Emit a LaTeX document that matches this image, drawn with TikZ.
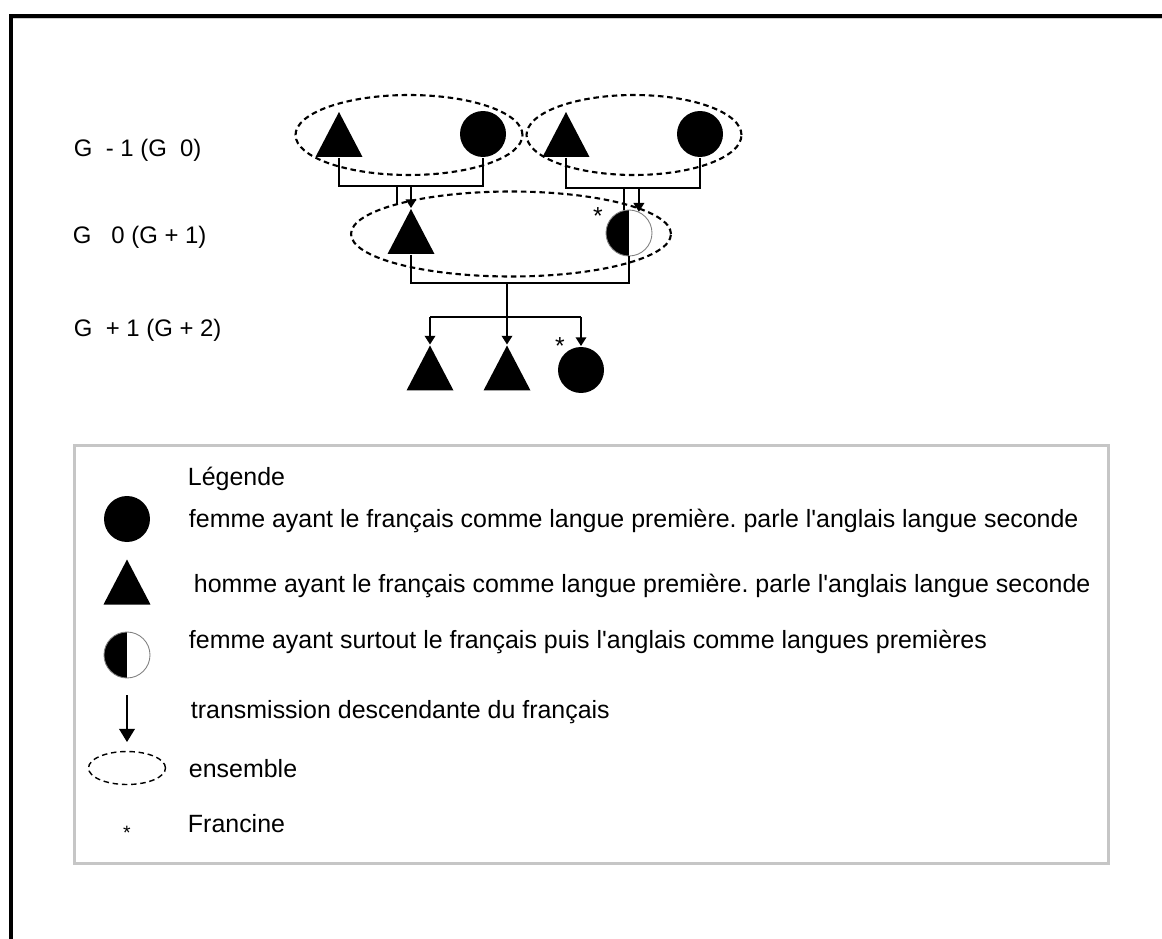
\documentclass[tikz,border=0pt]{standalone}
\usepackage{fontspec}
\setmainfont{Liberation Sans}
\usepackage{tikz}
\usetikzlibrary{arrows.meta, positioning, shapes.geometric}
\frenchspacing

\begin{document}
\begin{tikzpicture}[
    x=0.02cm, y=-0.02cm,
    font=\fontsize{14.2}{17}\selectfont,
    line width=1.1pt,
    man/.style={minimum width=0.94cm, minimum height=0.9cm, inner sep=0pt,
      path picture={\fill (path picture bounding box.south west)
        -- (path picture bounding box.north)
        -- (path picture bounding box.south east) -- cycle;}},
    woman/.style={circle, fill, minimum size=0.92cm, inner sep=0pt},
    halfw/.style={circle, draw=gray, line width=0.5pt, minimum size=0.92cm,
      inner sep=0pt,
      path picture={\fill (path picture bounding box.south west)
        rectangle (path picture bounding box.north);}},
    group/.style={ellipse, draw, line width=1.2pt,
      dash pattern=on 0.11cm off 0.075cm, inner sep=0pt},
    desc/.style={anchor=base west, inner sep=0pt},
    gen/.style={anchor=base west, inner sep=0pt, font=\fontsize{13.6}{16}\selectfont},
    star/.style={font=\fontsize{14}{16}\selectfont, inner sep=0pt},
    trans/.style={-{Triangle[length=5pt, width=6pt]}},
]
  \useasboundingbox (0,0) rectangle (1162,939);

  % ---- Outer frame ----
  \draw[line width=0.08cm] (1190,16) -| (11,970);
  \draw[gray!40, line width=0.02cm] (13,19) -- (1190,19);

  % ---- Generation labels ----
  \node[gen] (lg1) at (73,157) {G\ \ - 1 (G\ \ 0)};
  \node[gen] (lg2) at (72,243) {G\ \ \ 0 (G + 1)};
  \node[gen] (lg3) at (73,336) {G\ \ + 1 (G + 2)};

  % ---- Generation -1 ----
  \node[group, minimum width=4.54cm, minimum height=1.6cm] (ens1) at (409,135) {};
  \node[group, minimum width=4.3cm, minimum height=1.6cm] (ens2) at (634,135) {};
  \node[man]   (pa1) at (339,134.5) {};
  \node[woman] (ma1) at (483,134) {};
  \node[man]   (pa2) at (566,134.5) {};
  \node[woman] (ma2) at (700,134) {};

  % ---- Generation 0 ----
  \node[group, minimum width=6.4cm, minimum height=1.7cm] (ens3) at (511,234) {};
  \node[man]   (son) at (411,231.5) {};
  \node[halfw] (fra) at (629,233) {};
  \node[star]  (st1) at (598,216) {*};

  % ---- Generation +1 ----
  \node[man]   (k1) at (430,368) {};
  \node[man]   (k2) at (507,368) {};
  \node[woman] (k3) at (581,370) {};
  \node[star]  (st2) at (560,346) {*};

  % ---- Links ----
  \draw (pa1.south) -- ++(0,28) coordinate (j1) -| (ma1.south);
  \draw[trans] (son.north |- j1) -- (son.north);
  \coordinate (c1) at (397,205);
  \draw (c1 |- j1) -- (c1);

  \draw (pa2.south) -- ++(0,30) coordinate (j2) -| (ma2.south);
  \draw[trans] (fra.65 |- j2) -- (fra.65);
  \draw (fra.102 |- j2) -- (fra.102);

  \draw (son.south) -- ++(0,28) coordinate (j3) -| (fra.south);
  \draw[trans] (k2.north |- j3) -- (k2.north);
  \coordinate (j4) at (0,317);
  \draw (k1.north |- j4) -- (k3.north |- j4);
  \draw[trans] (k1.north |- j4) -- (k1.north);
  \draw[trans] (k3.north |- j4) -- (k3.north);

  % ---- Legend ----
  \draw[gray!45, line width=0.06cm] (74,445) rectangle (1108,863);
  \node[desc] (ltit) at (187,485) {Légende};

  \node[woman] (lw) at (127,519) {};
  \node[desc] (ltw) at (188,527)
    {femme ayant le français comme langue première. parle l\textquotesingle anglais langue seconde};

  \node[man] (lm) at (127,582) {};
  \node[desc] (ltm) at (193,592)
    {homme ayant le français comme langue première. parle l\textquotesingle anglais langue seconde};

  \node[halfw] (lh) at (127,655) {};
  \node[desc] (lth) at (188,648)
    {femme ayant surtout le français puis l\textquotesingle anglais comme langues premières};

  \coordinate (la1) at (127,695);
  \coordinate (la2) at (127,742);
  \draw[line width=0.75pt, -{Triangle[length=7.5pt, width=9pt]}] (la1) -- (la2);
  \node[desc] (lta) at (190,718) {transmission descendante du français};

  \node[group, line width=0.8pt, minimum width=1.54cm, minimum height=0.66cm] (le) at (127,768) {};
  \node[desc] (lte) at (188,777) {ensemble};

  \node[star, font=\fontsize{11}{13}\selectfont] (ls) at (127,833) {*};
  \node[desc] (lts) at (187,832) {Francine};
\end{tikzpicture}
\end{document}
